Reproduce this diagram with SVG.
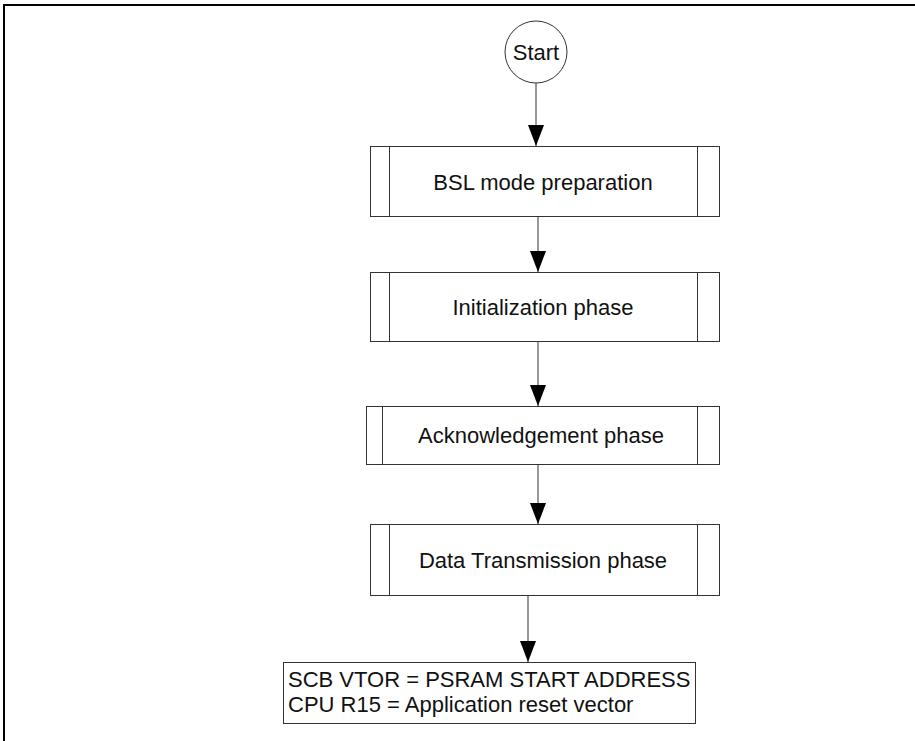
<svg xmlns="http://www.w3.org/2000/svg" width="915" height="741" viewBox="0 0 915 741">
<style>
.box{fill:#fff;stroke:#333;stroke-width:1}
.in{stroke:#333;stroke-width:1}
.t{font-family:"Liberation Sans",Arial,sans-serif;font-size:22px;fill:#111}
.c{text-anchor:middle}
.e{stroke:#333;stroke-width:1;fill:none}
</style>
<defs>
<marker id="ah" markerWidth="21" markerHeight="16" refX="21" refY="8" orient="auto" markerUnits="userSpaceOnUse" viewBox="0 0 21 16">
<path d="M0,0 L21,8 L0,16 Z" fill="#000"/>
</marker>
</defs>
<rect x="0" y="0" width="915" height="741" fill="#fff"/>
<path d="M4,741 V5 H915" fill="none" stroke="#000" stroke-width="2"/>
<g id="start">
<circle cx="536" cy="52" r="31" class="box"/>
<text x="536" y="60" class="t c">Start</text>
</g>
<g id="bsl">
<rect x="370.5" y="146.5" width="349" height="70" class="box"/>
<line x1="389.5" y1="146.5" x2="389.5" y2="216.5" class="in"/>
<line x1="697.5" y1="146.5" x2="697.5" y2="216.5" class="in"/>
<text x="543" y="190" class="t c">BSL mode preparation</text>
</g>
<g id="init">
<rect x="370.5" y="272.5" width="349" height="69" class="box"/>
<line x1="389.5" y1="272.5" x2="389.5" y2="341.5" class="in"/>
<line x1="697.5" y1="272.5" x2="697.5" y2="341.5" class="in"/>
<text x="543" y="315" class="t c">Initialization phase</text>
</g>
<g id="ack">
<rect x="366.5" y="406.5" width="353" height="58" class="box"/>
<line x1="382.5" y1="406.5" x2="382.5" y2="464.5" class="in"/>
<line x1="697.5" y1="406.5" x2="697.5" y2="464.5" class="in"/>
<text x="541" y="443" class="t c">Acknowledgement phase</text>
</g>
<g id="data">
<rect x="370.5" y="524.5" width="349" height="71" class="box"/>
<line x1="389.5" y1="524.5" x2="389.5" y2="595.5" class="in"/>
<line x1="697.5" y1="524.5" x2="697.5" y2="595.5" class="in"/>
<text x="543" y="568" class="t c">Data Transmission phase</text>
</g>
<g id="final">
<rect x="283.5" y="662.5" width="412" height="61" class="box"/>
<text x="288" y="687" class="t">SCB VTOR = PSRAM START ADDRESS</text>
<text x="288" y="712" class="t">CPU R15 = Application reset vector</text>
</g>
<g id="connectors">
<line x1="536" y1="83" x2="536" y2="146" class="e" marker-end="url(#ah)"/>
<line x1="538" y1="217" x2="538" y2="272" class="e" marker-end="url(#ah)"/>
<line x1="538" y1="342" x2="538" y2="406" class="e" marker-end="url(#ah)"/>
<line x1="538" y1="465" x2="538" y2="524" class="e" marker-end="url(#ah)"/>
<line x1="528" y1="596" x2="528" y2="662" class="e" marker-end="url(#ah)"/>
</g>
</svg>
